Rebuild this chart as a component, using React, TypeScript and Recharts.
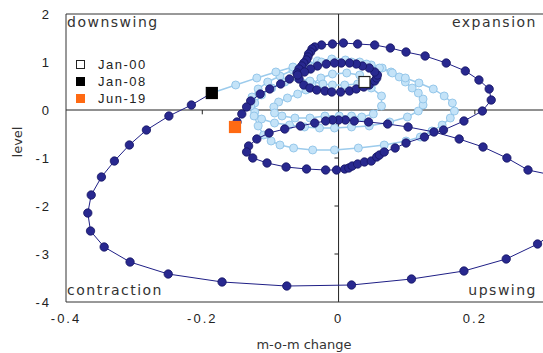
import React from 'react'
import { ScatterChart, Scatter, XAxis, YAxis, ReferenceLine, ReferenceArea, Legend, Label } from 'recharts'

// monthly readings, [m-o-m change, level], Jan-00 .. Jan-08
const path2000: [number, number][] = [
  [0.038, 0.583], [0.031, 0.729], [0.012, 0.771], [-0.009, 0.75], [-0.026, 0.667],
  [-0.039, 0.542], [-0.048, 0.417], [-0.06, 0.333], [-0.075, 0.25], [-0.088, 0.167],
  [-0.095, 0.063], [-0.094, -0.063], [-0.083, -0.125], [-0.064, -0.167], [-0.042, -0.167],
  [-0.02, -0.125], [0.001, -0.125], [0.019, -0.125], [0.034, -0.146], [0.051, -0.083],
  [0.063, 0.083], [0.063, 0.292], [0.048, 0.458], [0.028, 0.542], [0.009, 0.521],
  [-0.009, 0.521], [-0.023, 0.542], [-0.042, 0.604], [-0.06, 0.667], [-0.079, 0.583],
  [-0.098, 0.458], [-0.113, 0.313], [-0.123, 0.146], [-0.123, -0.042], [-0.113, -0.188],
  [-0.094, -0.271], [-0.072, -0.313], [-0.05, -0.354], [-0.028, -0.375], [-0.006, -0.375],
  [0.019, -0.354], [0.045, -0.333], [0.075, -0.25], [0.101, -0.146], [0.117, -0.021],
  [0.124, 0.104], [0.124, 0.229], [0.117, 0.354], [0.108, 0.458], [0.098, 0.583],
  [0.089, 0.688], [0.077, 0.792], [0.064, 0.875], [0.048, 0.938], [0.031, 1.0],
  [0.01, 1.042], [-0.01, 1.063], [-0.031, 1.021], [-0.05, 0.938], [-0.067, 0.833],
  [-0.086, 0.708], [-0.104, 0.583], [-0.118, 0.438], [-0.127, 0.271], [-0.129, 0.083],
  [-0.124, -0.125], [-0.118, -0.333], [-0.11, -0.521], [-0.099, -0.646], [-0.086, -0.729],
  [-0.066, -0.792], [-0.038, -0.833], [-0.006, -0.833], [0.029, -0.792], [0.067, -0.729],
  [0.099, -0.646], [0.12, -0.563], [0.137, -0.438], [0.152, -0.313], [0.164, -0.167],
  [0.17, -0.021], [0.167, 0.146], [0.155, 0.292], [0.139, 0.438], [0.118, 0.563],
  [0.098, 0.667], [0.079, 0.771], [0.06, 0.875], [0.041, 0.958], [0.019, 1.0],
  [-0.003, 1.0], [-0.025, 1.0], [-0.045, 0.958], [-0.067, 0.896], [-0.092, 0.792],
  [-0.12, 0.667], [-0.151, 0.521], [-0.186, 0.354],
]

// Jan-08 .. Jun-19
const path2008: [number, number][] = [
  [-0.186, 0.354], [-0.216, 0.104], [-0.249, -0.125], [-0.282, -0.417], [-0.307, -0.729],
  [-0.329, -1.063], [-0.348, -1.396], [-0.363, -1.771], [-0.368, -2.146], [-0.364, -2.521],
  [-0.344, -2.854], [-0.306, -3.167], [-0.25, -3.417], [-0.171, -3.583], [-0.076, -3.667],
  [0.019, -3.646], [0.107, -3.521], [0.184, -3.354], [0.246, -3.104], [0.292, -2.792],
  [0.326, -2.458], [0.349, -2.125], [0.36, -1.813], [0.345, -1.542], [0.313, -1.354],
  [0.278, -1.25], [0.247, -1.0], [0.212, -0.771], [0.177, -0.604], [0.14, -0.458],
  [0.102, -0.354], [0.072, -0.292], [0.044, -0.25], [0.023, -0.229], [0.01, -0.208],
  [0.0, -0.208], [-0.009, -0.208], [-0.019, -0.229], [-0.035, -0.271], [-0.056, -0.333],
  [-0.079, -0.396], [-0.102, -0.479], [-0.12, -0.604], [-0.132, -0.75], [-0.135, -0.875],
  [-0.126, -1.0], [-0.105, -1.104], [-0.077, -1.188], [-0.047, -1.229], [-0.019, -1.25],
  [-0.003, -1.25], [0.009, -1.229], [0.015, -1.208], [0.02, -1.167], [0.028, -1.125],
  [0.038, -1.083], [0.048, -1.063], [0.056, -0.979], [0.06, -0.938], [0.067, -0.875],
  [0.083, -0.792], [0.099, -0.688], [0.126, -0.563], [0.154, -0.417], [0.184, -0.229],
  [0.211, -0.021], [0.224, 0.208], [0.221, 0.438], [0.206, 0.625], [0.186, 0.813],
  [0.158, 0.979], [0.127, 1.125], [0.099, 1.208], [0.076, 1.292], [0.053, 1.354],
  [0.028, 1.375], [0.007, 1.396], [-0.009, 1.375], [-0.025, 1.354], [-0.035, 1.313],
  [-0.039, 1.271], [-0.041, 1.208], [-0.044, 1.167], [-0.045, 1.104], [-0.047, 1.042],
  [-0.051, 0.979], [-0.054, 0.917], [-0.058, 0.854], [-0.061, 0.771], [-0.058, 0.646],
  [-0.051, 0.521], [-0.042, 0.458], [-0.032, 0.417], [-0.02, 0.396], [-0.01, 0.375],
  [0.003, 0.375], [0.016, 0.396], [0.026, 0.438], [0.037, 0.479], [0.045, 0.521],
  [0.053, 0.604], [0.056, 0.667], [0.057, 0.729], [0.053, 0.792], [0.045, 0.875],
  [0.035, 0.917], [0.026, 0.958], [0.016, 0.979], [0.004, 0.979], [-0.006, 0.979],
  [-0.018, 0.958], [-0.031, 0.917], [-0.041, 0.854], [-0.05, 0.792], [-0.06, 0.729],
  [-0.072, 0.646], [-0.085, 0.542], [-0.101, 0.438], [-0.115, 0.333], [-0.129, 0.188],
  [-0.135, 0.063], [-0.142, -0.083], [-0.149, -0.25], [-0.152, -0.354],
]

const markerNames = ['Jan-00', 'Jan-08', 'Jun-19']
const markerPoints: [number, number][] = [[0.038, 0.583], [-0.186, 0.354], [-0.152, -0.354]]
const markerColors = ['#ffffff', '#000000', '#ff6a13']

const quadrantNames = ['downswing', 'expansion', 'contraction', 'upswing']
const xTicks = [-0.4, -0.2, 0, 0.2]
const yTicks = [-4, -3, -2, -1, 0, 1, 2]
const zeroLineXTicks = [-0.2, 0.2]
const zeroLineYTicks = [1, -1, -2, -3]

const toRows = (arr: [number, number][]) => arr.map(([x, y]) => ({ x, y }))

const tickFont = { fontSize: 13, fontFamily: 'Liberation Sans, Arial, sans-serif', fill: '#222', letterSpacing: 2 }
const titleFont = { fontSize: 13, fontFamily: 'DejaVu Sans, sans-serif', fill: '#333' }
const quadFont = { fontSize: 14, fontFamily: 'DejaVu Sans, sans-serif', fill: '#333', letterSpacing: 1.5 }

const darkDot = (p: any) => (
  <circle cx={p.cx} cy={p.cy} r={4.2} fill="#28288f" stroke="#151563" strokeWidth={0.8} />
)
const lightDot = (p: any) => (
  <circle cx={p.cx} cy={p.cy} r={4} fill="#c4e3f8" stroke="#8ec3e8" strokeWidth={0.9} />
)
const squareDot = (color: string) => (p: any) => (
  <rect
    x={p.cx - 5.5}
    y={p.cy - 5.5}
    width={11}
    height={11}
    fill={color}
    stroke={color === '#ffffff' ? '#222' : color}
    strokeWidth={1.2}
  />
)

const quadLabel = (text: string, corner: string) => (props: any) => {
  const { x, y, width, height } = props.viewBox
  const right = corner.endsWith('r')
  const top = corner.startsWith('t')
  return (
    <text
      x={right ? x + width - 6 : x + 1}
      y={top ? y + 13 : y + height - 7}
      textAnchor={right ? 'end' : 'start'}
      {...quadFont}
    >
      {text}
    </text>
  )
}

const MarkerLegend = () => (
  <div style={{ display: 'flex', flexDirection: 'column' }}>
    {markerNames.map((name, i) => (
      <div key={name} style={{ display: 'flex', alignItems: 'center', height: 17 }}>
        <span
          style={{
            width: 9,
            height: 9,
            boxSizing: 'border-box',
            background: markerColors[i],
            border: `1px solid ${i === 0 ? '#222' : markerColors[i]}`,
            marginRight: 13,
          }}
        />
        <span style={{ fontSize: 13, fontFamily: 'Liberation Sans, Arial, sans-serif', letterSpacing: 1.5, color: '#222' }}>
          {name}
        </span>
      </div>
    ))}
  </div>
)

export default function App() {
  return (
    <div style={{ position: 'absolute', left: 0, top: 0 }}>
      <ScatterChart width={543} height={353} margin={{ top: 14, right: 0, bottom: 0, left: 0 }}>
        <XAxis
          type="number"
          dataKey="x"
          domain={[-0.4, 0.3]}
          allowDataOverflow
          ticks={xTicks}
          height={51}
          tick={tickFont}
          tickLine={false}
          tickMargin={6}
          axisLine={{ stroke: '#333' }}
        >
          <Label
            content={() => (
              <text x={304} y={349} textAnchor="middle" {...titleFont}>
                m-o-m change
              </text>
            )}
          />
        </XAxis>
        <YAxis
          type="number"
          dataKey="y"
          domain={[-4, 2]}
          allowDataOverflow
          ticks={yTicks}
          width={66}
          tick={tickFont}
          tickLine={false}
          tickMargin={9}
          axisLine={{ stroke: '#333' }}
        >
          <Label
            content={() => (
              <text x={17} y={142} transform="rotate(-90 17 142)" textAnchor="middle" dominantBaseline="central" {...titleFont}>
                level
              </text>
            )}
          />
        </YAxis>

        <ReferenceArea x1={-0.4} x2={0} y1={0} y2={2} fill="none" label={{ content: quadLabel(quadrantNames[0], 'tl') }} />
        <ReferenceArea x1={0} x2={0.3} y1={0} y2={2} fill="none" label={{ content: quadLabel(quadrantNames[1], 'tr') }} />
        <ReferenceArea x1={-0.4} x2={0} y1={-4} y2={0} fill="none" label={{ content: quadLabel(quadrantNames[2], 'bl') }} />
        <ReferenceArea x1={0} x2={0.3} y1={-4} y2={0} fill="none" label={{ content: quadLabel(quadrantNames[3], 'br') }} />

        <ReferenceLine y={2} stroke="#333" />
        <ReferenceLine x={0} stroke="#222" />
        <ReferenceLine y={0} stroke="#222" />
        {zeroLineXTicks.map((t) => (
          <ReferenceLine key={'xt' + t} segment={[{ x: t, y: 0 }, { x: t, y: -0.09 }]} stroke="#222" />
        ))}
        {zeroLineYTicks.map((t) => (
          <ReferenceLine key={'yt' + t} segment={[{ x: -0.006, y: t }, { x: 0, y: t }]} stroke="#222" />
        ))}

        <Scatter
          data={toRows(path2000)}
          line={{ stroke: '#9ccbec', strokeWidth: 1.5 }}
          lineType="joint"
          shape={lightDot}
          isAnimationActive={false}
        />
        <Scatter
          data={toRows(path2008)}
          line={{ stroke: '#1f1f86', strokeWidth: 1 }}
          lineType="joint"
          shape={darkDot}
          isAnimationActive={false}
        />
        {markerPoints.map(([x, y], i) => (
          <Scatter
            key={markerNames[i]}
            name={markerNames[i]}
            data={[{ x, y }]}
            shape={squareDot(markerColors[i])}
            isAnimationActive={false}
          />
        ))}

        <Legend
          layout="vertical"
          align="center"
          verticalAlign="middle"
          content={() => <MarkerLegend />}
          wrapperStyle={{ position: 'absolute', left: 76, top: 56, width: 'auto', height: 'auto' }}
        />
      </ScatterChart>
    </div>
  )
}
